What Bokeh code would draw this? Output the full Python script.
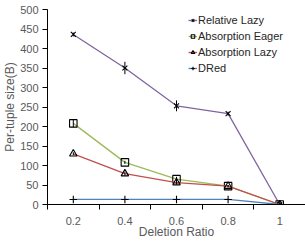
from bokeh.plotting import figure
from bokeh.models import FixedTicker, Legend, LegendItem, Range1d
from bokeh.embed import file_html
from bokeh.resources import INLINE

ratios = [0.2, 0.4, 0.6, 0.8, 1.0]
x_labels = {0.2: "0.2", 0.4: "0.4", 0.6: "0.6", 0.8: "0.8", 1.0: "1"}
y_ticks = [0, 50, 100, 150, 200, 250, 300, 350, 400, 450, 500]

relative_lazy = [436, 350, 253, 233, 0]
relative_lazy_err = [5, 16, 14, 5, 0]
absorption_eager = [208, 108, 65, 47, 0]
absorption_eager_err = [10, 4, 6, 3, 0]
absorption_lazy = [130, 79, 56, 47, 0]
absorption_lazy_err = [4, 5, 5, 3, 0]
dred = [13, 13, 13, 13, 0]

FONT = "Liberation Sans"
GREY = "#595959"

p = figure(width=305, height=241, output_backend="svg", toolbar_location=None,
           x_range=Range1d(0.1, 1.1), y_range=Range1d(0, 500),
           min_border_left=41, min_border_right=0, min_border_top=9, min_border_bottom=0)
p.outline_line_color = None
p.xgrid.visible = False
p.ygrid.visible = False
p.background_fill_color = "white"

series = [
    ("Relative Lazy", relative_lazy, relative_lazy_err, "#8064A2", "x"),
    ("Absorption Eager", absorption_eager, absorption_eager_err, "#9BBB59", "square"),
    ("Absorption Lazy", absorption_lazy, absorption_lazy_err, "#C0504D", "triangle"),
    ("DRed", dred, [0, 0, 0, 0, 0], "#4F81BD", "cross"),
]

items = []
for name, vals, errs, col, mk in series:
    r1 = p.line(ratios, vals, line_color=col, line_width=1.3)
    lo = [v - e for v, e in zip(vals, errs)]
    hi = [v + e for v, e in zip(vals, errs)]
    p.segment(x0=ratios, y0=lo, x1=ratios, y1=hi, line_color="black", line_width=1)
    size = 7.5 if mk != "x" else 7
    r2 = p.scatter(ratios, vals, marker=mk, size=size, fill_color=None,
                   line_color="black", line_width=1.1)
    items.append(LegendItem(label=name, renderers=[r1, r2]))

legend = Legend(items=items, location=(141, 128), background_fill_alpha=0,
                border_line_color=None, padding=0, margin=0, spacing=0,
                glyph_width=9, glyph_height=16, label_standoff=1,
                label_text_font=FONT, label_text_font_size="11px",
                label_text_color="#262626", label_height=16)
p.add_layout(legend, "center")

p.xaxis.ticker = FixedTicker(ticks=ratios, minor_ticks=[0.1, 0.3, 0.5, 0.7, 0.9, 1.1])
p.xaxis.major_label_overrides = x_labels
p.xaxis.major_tick_line_color = None
p.xaxis.major_tick_out = 0
p.xaxis.major_tick_in = 0
p.xaxis.minor_tick_line_color = "black"
p.xaxis.minor_tick_out = 5
p.xaxis.minor_tick_in = 0
p.xaxis.axis_label = "Deletion Ratio"
p.xaxis.major_label_standoff = 7
p.xaxis.axis_label_standoff = -3

p.yaxis.ticker = FixedTicker(ticks=y_ticks, minor_ticks=[])
p.yaxis.major_tick_out = 5
p.yaxis.major_tick_in = 0
p.yaxis.axis_label = "Per-tuple size(B)"
p.yaxis.major_label_standoff = 4
p.yaxis.axis_label_standoff = 0

for ax in (p.xaxis[0], p.yaxis[0]):
    ax.axis_line_color = "black"
    ax.axis_line_width = 1
    ax.major_label_text_font = FONT
    ax.major_label_text_font_size = "11px"
    ax.major_label_text_color = GREY
    ax.major_label_text_line_height = 1.0
    ax.axis_label_text_font = FONT
    ax.axis_label_text_font_size = "12px"
    ax.axis_label_text_font_style = "normal"
    ax.axis_label_text_color = GREY
    ax.axis_label_text_line_height = 1.0

open("out.html", "w").write(file_html(p, INLINE))
